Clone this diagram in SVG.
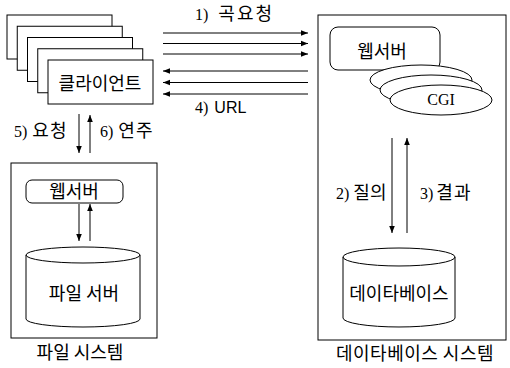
<svg xmlns="http://www.w3.org/2000/svg" width="510" height="368" viewBox="0 0 510 368">
<defs>
<marker id="ah" viewBox="0 0 10 10" refX="10" refY="5" markerWidth="7" markerHeight="7" markerUnits="userSpaceOnUse" orient="auto">
<path d="M0,1 L10,5 L0,9 Z" fill="#000"/>
</marker>
<style>
.box{fill:#fff;stroke:#000;stroke-width:1}
.ln{stroke:#000;stroke-width:1;fill:none}
.arr{stroke:#000;stroke-width:1;fill:none;marker-end:url(#ah)}
.kr{font-family:"Noto Sans CJK KR","Liberation Sans",sans-serif;font-size:18px;fill:#000}
.num{font-family:"Liberation Serif","Noto Sans CJK KR",serif;font-size:16px;fill:#000}
.sans{font-family:"Liberation Sans",sans-serif;font-size:16px;fill:#000}
</style>
</defs>
<rect width="510" height="368" fill="#fff"/>

<g id="db-system">
<rect class="box" x="318" y="15" width="188" height="325"/>
<text class="kr" x="415" y="360" text-anchor="middle" letter-spacing="0.5">데이타베이스 시스템</text>
</g>

<g id="file-system">
<rect class="box" x="11" y="163" width="146" height="175"/>
<text class="kr" x="80" y="359" text-anchor="middle" font-size="19">파일 시스템</text>
</g>

<g id="clients">
<rect class="box" x="7" y="15" width="105" height="44"/>
<rect class="box" x="17.25" y="26.25" width="105" height="44"/>
<rect class="box" x="27.5" y="37.5" width="105" height="44"/>
<rect class="box" x="37.75" y="48.75" width="105" height="44"/>
<rect class="box" x="48" y="60" width="105" height="44"/>
<text class="kr" x="100" y="90" text-anchor="middle">클라이언트</text>
</g>

<g id="db-webserver">
<rect class="box" x="330" y="27" width="110" height="43" rx="8"/>
<text class="kr" x="382" y="58" text-anchor="middle" font-size="17">웹서버</text>
</g>

<g id="cgi">
<ellipse class="box" cx="421" cy="80" rx="51" ry="15"/>
<ellipse class="box" cx="431" cy="90" rx="51" ry="15"/>
<ellipse class="box" cx="441" cy="100" rx="51" ry="15"/>
<text class="num" x="441" y="105" text-anchor="middle" font-size="15">CGI</text>
</g>

<g id="database">
<path class="box" d="M343,257 A56,9 0 0 1 455,257 L455,318 A56,9 0 0 1 343,318 Z"/>
<path class="ln" d="M343,257 A56,9 0 0 0 455,257"/>
<text class="kr" x="399" y="300" text-anchor="middle">데이타베이스</text>
</g>

<g id="file-webserver">
<rect class="box" x="26" y="180" width="97" height="23" rx="6"/>
<text class="kr" x="74" y="198" text-anchor="middle">웹서버</text>
</g>

<g id="file-server">
<path class="box" d="M26,255 A57,8 0 0 1 140,255 L140,319 A57,8 0 0 1 26,319 Z"/>
<path class="ln" d="M26,255 A57,8 0 0 0 140,255"/>
<text class="kr" x="84" y="300" text-anchor="middle" font-size="19">파일 서버</text>
</g>

<g id="connectors">
<line class="arr" x1="163" y1="33" x2="308" y2="33"/>
<line class="arr" x1="163" y1="43.5" x2="308" y2="43.5"/>
<line class="arr" x1="163" y1="54" x2="308" y2="54"/>
<line class="arr" x1="308" y1="71" x2="163" y2="71"/>
<line class="arr" x1="308" y1="82.5" x2="163" y2="82.5"/>
<line class="arr" x1="308" y1="94" x2="163" y2="94"/>
<line class="arr" x1="392" y1="138" x2="392" y2="233"/>
<line class="arr" x1="407" y1="233" x2="407" y2="138"/>
<line class="arr" x1="79" y1="114" x2="79" y2="153"/>
<line class="arr" x1="90" y1="153" x2="90" y2="115"/>
<line class="arr" x1="79" y1="204" x2="79" y2="241"/>
<line class="arr" x1="90" y1="241" x2="90" y2="204"/>
<text class="num" x="195" y="20">1)<tspan class="kr" dx="10" letter-spacing="2">곡요청</tspan></text>
<text class="num" x="195" y="113">4)<tspan class="sans" dx="6">URL</tspan></text>
<text class="num" x="14" y="137">5)<tspan class="kr" dx="5" letter-spacing="1">요청</tspan></text>
<text class="num" x="100" y="137">6)<tspan class="kr" dx="5" letter-spacing="1">연주</tspan></text>
<text class="num" x="336" y="199">2)<tspan class="kr" font-size="17" dx="4">질의</tspan></text>
<text class="num" x="420" y="199">3)<tspan class="kr" dx="3" letter-spacing="1">결과</tspan></text>
</g>
</svg>
